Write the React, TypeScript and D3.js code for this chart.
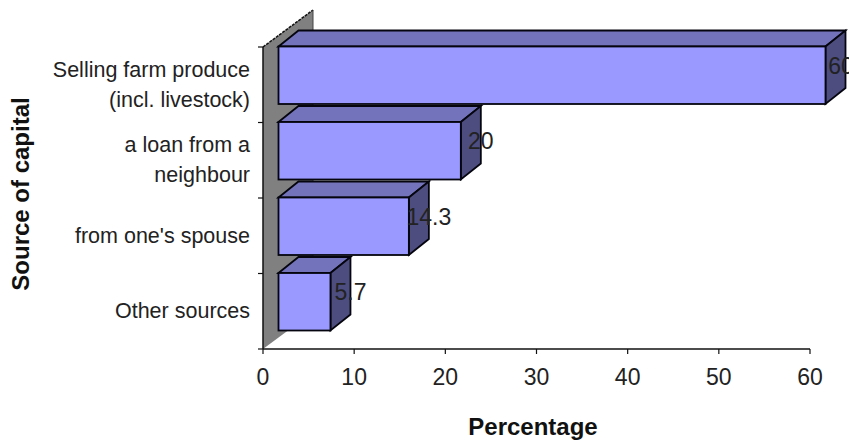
import React from "react";
import * as d3 from "d3";

const categories = ["Selling farm produce|(incl. livestock)", "a loan from a|neighbour", "from one's spouse", "Other sources"];
const percentages = [60, 20, 14.3, 5.7];
const percentLabels = ["60", "20", "14.3", "5.7"];
const xTicks = [0, 10, 20, 30, 40, 50, 60];

const W = 849, H = 442;
const FONT = "'Liberation Sans', Arial, sans-serif";
const x = d3.scaleLinear().domain([0, 60]).range([263, 810]);
const y = d3.scaleBand<string>().domain(categories).range([47, 349]).paddingInner(0).paddingOuter(0);
const axisColor = "#111";
const depthX = 20, depthY = -16;
const wallDepthX = 50, wallDepthY = -37;
const barInsetX = 15.5, barInsetY = -9.5, barHeight = 57.5;

export default function App() {
  const x0 = x(0), top = y.range()[0], bottom = y.range()[1];
  const wall = d3.path();
  wall.moveTo(x0, top);
  wall.lineTo(x0 + wallDepthX, top + wallDepthY);
  wall.lineTo(x0 + wallDepthX, bottom + wallDepthY);
  wall.lineTo(x0, bottom);
  wall.closePath();
  const yTicks = [...categories.map((c) => y(c)!), bottom];
  const barTop = (c: string) => y(c)! + (y.bandwidth() - barHeight) / 2 + barInsetY;

  return (
    <svg width={W} height={H} style={{ position: "absolute", left: 0, top: 0, background: "#fff" }} fontFamily={FONT}>
      <path d={wall.toString()} fill="#808080" stroke="none" />
      <path d={`M${x0},${top}L${x0 + wallDepthX},${top + wallDepthY}`} fill="none" stroke={axisColor} strokeWidth={1.5} strokeDasharray="3 1" />
      <line x1={x0 + wallDepthX} x2={x0 + wallDepthX} y1={top + wallDepthY} y2={bottom + wallDepthY} stroke="#444" strokeWidth={1} />
      <line x1={x0} x2={x0} y1={top} y2={bottom} stroke={axisColor} strokeWidth={1.5} />
      <line x1={x0} x2={x(60)} y1={bottom} y2={bottom} stroke={axisColor} strokeWidth={1.5} />
      {yTicks.map((t) => (
        <line key={t} x1={x0 - 5} x2={x0} y1={t} y2={t} stroke={axisColor} strokeWidth={1.2} />
      ))}
      {xTicks.map((t) => (
        <g key={t}>
          <line x1={x(t)} x2={x(t)} y1={bottom} y2={bottom + 5} stroke={axisColor} strokeWidth={1.2} />
          <text x={x(t)} y={bottom + 36} textAnchor="middle" fontSize={23} fill="#222">{t}</text>
        </g>
      ))}
      {percentages.map((v, i) => {
        const bx = x0 + barInsetX;
        const by = barTop(categories[i]);
        const bw = x(v) - x0;
        const r = bx + bw, b = by + barHeight;
        return (
          <g key={categories[i]} stroke="#05050f" strokeWidth={1.8} strokeLinejoin="miter">
            <polygon points={`${bx},${by} ${bx + depthX},${by + depthY} ${r + depthX},${by + depthY} ${r},${by}`} fill="#7373bb" />
            <polygon points={`${r},${by} ${r + depthX},${by + depthY} ${r + depthX},${b + depthY} ${r},${b}`} fill="#4d4d80" />
            <rect x={bx} y={by} width={bw} height={barHeight} fill="#9999ff" />
          </g>
        );
      })}
      {percentages.map((v, i) => {
        // Value labels are centred on the bar's back edge, held in at the right of the plot.
        const cx = Math.min(x0 + barInsetX + x(v) - x0 + 20, W - 8);
        return (
          <text key={i} x={cx} y={barTop(categories[i]) + 27} fontSize={23} fill="#222" textAnchor="middle">
            {percentLabels[i]}
          </text>
        );
      })}
      {categories.map((c) => {
        const lines = c.split("|");
        const cy = y(c)! + y.bandwidth() / 2;
        return (
          <text key={c} textAnchor="end" fontSize={21.5} fill="#222">
            {lines.map((l, j) => (
              <tspan key={l} x={250} y={cy + 7 + (j - (lines.length - 1) / 2) * 30}>{l}</tspan>
            ))}
          </text>
        );
      })}
      <text transform="translate(29,194) rotate(-90)" textAnchor="middle" fontSize={24} fontWeight="bold" fill="#111">Source of capital</text>
      <text x={533} y={435} textAnchor="middle" fontSize={24} fontWeight="bold" fill="#111">Percentage</text>
    </svg>
  );
}
